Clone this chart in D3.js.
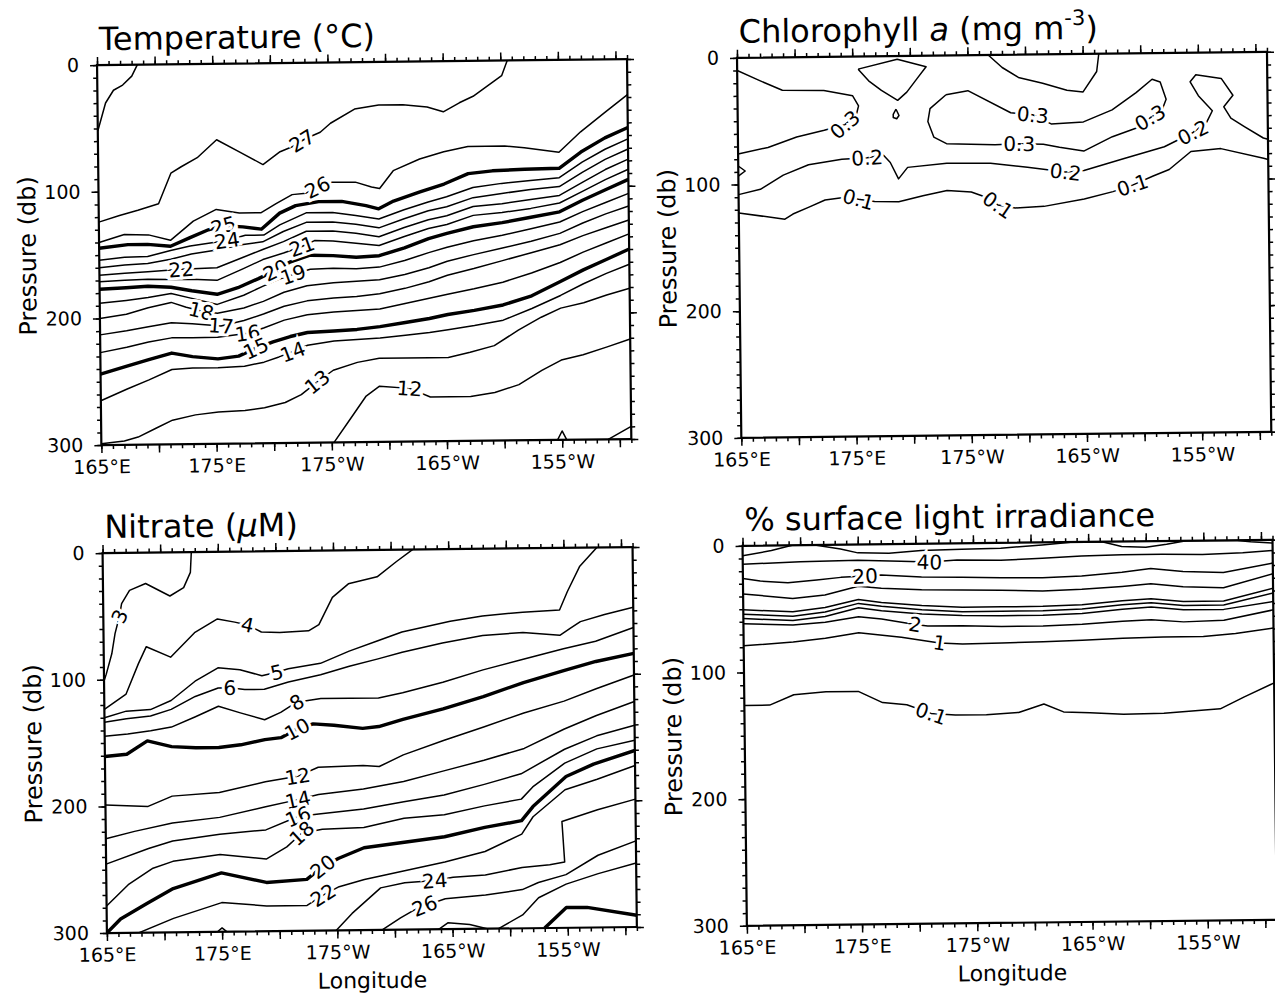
<!DOCTYPE html>
<html lang="en">
<head>
<meta charset="UTF-8">
<title>Sections</title>
<script src="https://cdn.jsdelivr.net/npm/d3@7"></script>
<style>
  body { margin: 0; background: #fff; }
  text { font-family: "DejaVu Sans", sans-serif; fill: #000; }
</style>
</head>
<body>
<script>
// axis values
var lonTicks = [165, 175, 185, 195, 205];
var lonTickLabels = ["165°E", "175°E", "175°W", "165°W", "155°W"];
var pressureTicks = [0, 100, 200, 300];

// temperature contours: [longitude (°E, 0-360), pressure (db)]
var tempContours = [
  { level: 28, pts: [[165,52],[165.7,30],[166.4,20],[167.2,16],[168,9],[168.5,0]] },
  { level: 27, pts: [[165,124],[166.8,119],[168.4,115],[170.2,110],[171.3,86],[172.2,81],[173.6,74],[175.3,60],[177.3,70],[179.3,80],[180.8,70],[181.9,66],[183,60],[184.3,55],[185.2,48],[187.3,37],[189.4,34],[191.5,34],[193.6,36],[195,40],[196.4,33],[197.6,28],[200.1,12],[200.6,0]] },
  { level: 26, pts: [[165,140],[167.2,134],[169.3,134.5],[171.2,139],[173.2,124],[175.2,115],[177.2,118],[179.1,118],[180.4,111],[181.8,104],[183,103],[184,98.5],[185.3,94.5],[187.3,94.7],[188.7,98.7],[189.4,100],[190.6,86],[192.9,77],[195,71.5],[197.1,67.5],[200.3,67.5],[202,69],[205,73],[206.9,57],[209,42],[211,28]] },
  { level: 25, pts: [[165,144.6],[167.5,142],[169.2,142],[171.2,143.7],[172.9,137],[174.5,131],[175.8,128],[177.5,129],[179.1,131],[180.7,118.5],[182.1,112.7],[184.1,109.8],[186.1,109.8],[188.2,113.3],[189.3,116],[190.6,110],[192.9,103],[195,97],[197.1,89],[199.2,87],[202,86],[205,85.6],[206.9,73],[209,62],[211,54]] },
  { level: 24, pts: [[165,154],[167.2,152],[169.2,151.6],[171.2,147],[172.9,143.7],[176.1,139.7],[177.7,135.7],[179.3,135.7],[180.7,127.8],[183,118.5],[185.3,118.5],[187.3,121],[189.3,124],[191.5,117],[193.6,111],[195.2,107],[197.5,100],[200,97],[202.5,95],[205,93],[207,81],[209,71],[211,63]] },
  { level: 23, pts: [[165,160],[167.2,158],[169.2,157],[171.2,154],[173,150],[175.2,147],[177.5,143],[179.2,141],[181,133],[183,126],[185.3,126],[187.3,128],[189.3,131],[191.5,124],[193.6,118],[195.2,115],[197.5,108],[200,105],[202.5,102],[205,100],[207,89],[209,79],[211,71]] },
  { level: 22, pts: [[165,166],[167.2,164.5],[169.2,163.5],[172.1,162],[175.2,161],[177.5,153],[179.2,147],[181,141],[183,133],[185.3,133],[187.3,135],[189.3,138],[191.5,131],[193.6,125],[195.2,122],[197.5,115],[200,113],[202.5,110],[205,107],[207,97],[209,87],[211,79]] },
  { level: 21, pts: [[165,171],[167.2,170],[169.2,169.5],[171.2,170],[173,170],[175.2,171],[177.5,162],[179.2,155],[181,150],[182.6,145],[183.7,140.5],[185.3,141],[187.3,143],[189.3,145],[191.5,138],[193.6,132],[195.2,129],[197.5,122],[200,120],[202.5,117],[205,113],[207,104],[209,95],[211,87]] },
  { level: 20, pts: [[165,177],[167.3,176],[169.2,175],[171.2,176],[173,179],[175.2,182],[177,177],[178.8,170],[180.3,163.5],[181.6,157],[183.3,152],[185.3,152.5],[187.3,154],[189.3,153],[191.5,147],[193.6,140],[195.2,136],[197.5,131],[200,128],[202.5,124],[205,120],[207,111],[209,103],[211,95]] },
  { level: 19, pts: [[165,188],[167.3,186],[169.2,184],[171.2,181],[173,185],[175.2,190],[177.5,183],[179.2,176],[180.5,171],[181.8,167],[183.3,163],[185.3,162.5],[187.3,163],[189.3,162],[191.5,157],[193.6,151],[195.2,147],[197.5,142],[200,138],[202.5,133],[205,128],[207,120],[209,113],[211,106]] },
  { level: 18, pts: [[165,200],[167.3,197],[169.2,192],[171.2,188],[172.5,192],[173.8,195],[175.2,197],[177.5,193],[179.2,188],[181,181],[183,176],[185.3,174],[187.3,173],[189.3,172],[191.5,168],[193.6,163],[195.2,158],[197.5,153],[200,148],[202.5,143],[205,137],[207,129],[209,122],[211,116]] },
  { level: 17, pts: [[165,213],[167.3,210],[169.2,207],[171.2,204],[173,205],[175.5,207],[177.5,203],[179.2,198],[181,192],[183,188],[185.3,186],[187.3,185],[189.3,183],[191.5,179],[193.6,174],[195.2,169],[197.5,164],[200,158],[202.5,152],[205,146],[207,139],[209,133],[211,127]] },
  { level: 16, pts: [[165,227],[167.3,223],[169.2,219],[171.2,216],[173,216],[175.2,216],[177.8,213],[179.2,209],[181,203],[183,199],[185.3,197],[187.3,196],[189.3,195],[191.5,191],[193.6,187],[195.2,184],[197.5,180],[200,175],[202.5,168],[205,160],[207,152],[209,145],[211,138]] },
  { level: 15, pts: [[165,244],[167.3,238],[169.2,233],[171.2,228],[173,231],[175.2,233],[177,231],[178.5,225],[180,220],[181.5,216],[183,213],[185.3,212],[187.3,211],[189.3,209],[191.5,206],[193.6,203],[195.2,200],[197.5,197],[200,193],[202.5,186],[205,175],[207,166],[209,158],[211,150]] },
  { level: 14, pts: [[165,265],[167.3,256],[169.2,249],[171.2,241],[173,240],[175.2,240],[177.5,239],[179.2,236],[180.5,232],[181.7,228],[183,223],[185.3,220],[187.3,219],[189.3,218],[191.5,216],[193.6,214],[195.2,212],[197.5,209],[200,205],[202.5,196],[205,186],[207,177],[209,169],[211,162]] },
  { level: 13, pts: [[165,299],[167,297],[168.2,294],[169.8,287],[171.2,281],[173.2,277],[175.2,275],[177.5,274],[179.2,272],[181,268],[182.4,262],[183.8,252],[185.2,243],[187.3,237],[189.2,234],[191.5,234],[193.6,234],[195.2,234],[197.1,230],[199.2,225],[201.3,213],[203.3,203],[205,196],[207,192],[209,186],[211,181]] },
  { level: 12, pts: [[185.2,300],[186.6,282],[188,264],[189.2,256],[191.8,258],[193.6,265],[197.1,265],[199.2,262],[201.3,256],[203.3,245],[205,237],[206.9,233],[209,227],[211,221]] },
  { level: 12, pts: [[204.6,300],[205,293],[205.4,300]] },
  { level: 11, pts: [[209,300],[210,295],[211,290]] }
];
var tempLabels = [
  { text: "27", lon: 182.7, p: 61.6 }, { text: "26", lon: 184, p: 98.5 },
  { text: "25", lon: 175.8, p: 128 }, { text: "24", lon: 176.1, p: 139.7 },
  { text: "22", lon: 172.1, p: 162 }, { text: "21", lon: 182.6, p: 145 },
  { text: "20", lon: 180.3, p: 163.5 }, { text: "19", lon: 181.8, p: 167 },
  { text: "18", lon: 173.8, p: 195 }, { text: "17", lon: 175.5, p: 207 },
  { text: "16", lon: 177.8, p: 213 }, { text: "15", lon: 178.5, p: 225 },
  { text: "14", lon: 181.7, p: 228 }, { text: "13", lon: 183.8, p: 252 },
  { text: "12", lon: 191.8, p: 258 }
];

// chlorophyll contours
var chlContours = [
  { level: 0.3, pts: [[183.1,31],[185,28],[188.7,45.8],[190.6,47.6],[192.2,55],[195,53.7],[197.5,44.4],[199.6,31],[201,20.6],[201.7,22.8],[202.2,36.5],[201.8,45.8],[200.8,51],[199.6,59],[197.5,65.6],[195,76.7],[192.9,73.5],[191.5,70.9],[189.4,70.4],[187.3,70.9],[183.1,69.6],[182,64.3],[181.5,52],[181.7,41.8],[183.1,31]] },
  { level: 0.3, pts: [[165,10],[166.9,18],[168.9,26],[172.5,26.5],[175,31],[175.5,39],[175.3,46],[174.3,53.7],[172.5,58],[170.1,63],[167.6,71],[165,76]] },
  { level: 0.4, pts: [[175.5,10],[178.9,2.6],[181.4,8.7],[180.6,18],[179.7,28.6],[178.9,35],[177.5,27],[176.4,19.3],[175.5,10]] },
  { level: 0.4, pts: [[178.75,42],[179,47],[178.8,49.5],[178.5,48.5],[178.5,46],[178.75,42]] },
  { level: 0.4, pts: [[186.8,0],[188,10],[189.4,18],[191.5,22.8],[193.6,28.6],[195,30],[196.2,14],[196.4,0]] },
  { level: 0.2, pts: [[165,108],[166.9,104],[168.9,93],[171.1,85],[174,81],[176.2,80],[177.6,78],[178.2,84],[178.9,97],[179.7,88],[183.1,85],[186.9,85.4],[190.1,89],[193.4,93],[195,92],[198.5,83],[202,74],[204.5,63],[205.7,55],[206.2,46],[205,34],[204.3,23],[204.8,17.5],[207,20.6],[208,34],[207.2,43],[207.8,52],[209,59],[210.6,68],[211,69]] },
  { level: 0.2, pts: [[165,85.4],[165.6,89.4],[165,93.4]] },
  { level: 0.1, pts: [[165,122.5],[169,127.8],[169.7,123.8],[171.1,118.5],[172.5,113],[174.6,110.6],[175.4,112.7],[176.8,114.6],[178.9,115],[181,110.6],[183.1,106.6],[185.2,108],[186.6,112.7],[187.5,118.5],[189,121],[191.5,120],[195,114.6],[197.5,109],[199.2,104],[201,97],[202.4,92],[204.3,78],[206.9,76],[210.6,84],[211,85]] }
];
var chlLabels = [
  { text: "0.3", lon: 174.3, p: 53.7 }, { text: "0.3", lon: 190.6, p: 47.6 },
  { text: "0.3", lon: 200.8, p: 51 }, { text: "0.3", lon: 189.4, p: 70.4 },
  { text: "0.2", lon: 176.2, p: 80 }, { text: "0.2", lon: 193.4, p: 93 },
  { text: "0.2", lon: 204.5, p: 63 }, { text: "0.1", lon: 175.4, p: 112.7 },
  { text: "0.1", lon: 187.5, p: 118.5 }, { text: "0.1", lon: 199.2, p: 104 }
];

// nitrate contours
var no3Contours = [
  { level: 3, pts: [[172.7,0],[172.6,16],[172,28],[170.8,34.5],[168.7,24.4],[167.3,29.7],[166.6,40],[166.4,50],[166,63.7],[165.7,79.6],[165.2,95.6],[165,101]] },
  { level: 4, pts: [[165,123.4],[166.9,111.5],[168,87.6],[168.7,74.3],[170.8,82.8],[172.9,63.7],[174.9,53],[176.4,55.7],[177.5,58],[178.7,63.7],[180.3,64.2],[182.8,63.2],[183.7,58.4],[184.9,37],[186.3,26.5],[188.8,21.2],[190.5,9.3],[191.9,0]] },
  { level: 5, pts: [[165,130],[166.9,125],[169,124],[170.8,117],[172.9,102],[174.9,91.6],[176.8,93.4],[178.7,98.2],[180,95.6],[181,93],[183.8,89],[186.3,79.6],[188.8,71.7],[190.9,65],[195.1,57],[197.9,53],[201.4,50.4],[204.6,49],[205.3,34.5],[206.4,14.6],[207.9,0]] },
  { level: 6, pts: [[165,133.5],[166.9,131],[169,129],[170.8,124],[172.9,114],[174.9,107.5],[175.9,107.5],[177.2,109],[178.9,109],[181,103.5],[183.8,98],[186.3,91.6],[188.8,86],[190.9,81],[194.4,74],[197.9,68.5],[201.4,66.4],[204.6,69],[205.5,63.7],[206.4,58.4],[208.5,53],[211,47.5]] },
  { level: 8, pts: [[165,144.7],[167,143],[169,140.7],[170.8,138],[172.9,130],[174.9,122],[176.8,127.4],[178.9,133],[180.3,127.4],[181.7,119.5],[183.8,116.8],[186.3,116.8],[188.8,116.8],[190.9,113],[194.4,105],[197.9,95.6],[201.4,87.6],[204.9,79.6],[207.7,74],[211,63.5]] },
  { level: 10, pts: [[165,160.6],[166.9,159],[168.7,148.7],[170.8,153.4],[172.9,154.5],[174.9,154.5],[176.8,152.6],[178.9,148.7],[180.3,147.3],[181.7,140.7],[183.1,136.7],[184.9,138],[187.4,140.7],[188.8,139.4],[190.9,134],[194.4,126],[197.9,116.8],[201.4,106],[204.9,97],[207.7,90],[211,84]] },
  { level: 12, pts: [[165,199],[168.7,200.4],[170.8,192.5],[174.9,190],[178.9,182],[181.7,178],[183.5,171],[187.4,170],[188.8,171],[190.9,162],[194.4,151],[197.9,140.7],[201.4,130],[204.9,121],[207.7,111.5],[211,101]] },
  { level: 14, pts: [[165,225.6],[167.5,220],[170.8,213.7],[174.9,209.7],[178.9,201.8],[181.7,196.4],[183.5,192.5],[187.4,188.5],[190.9,183],[194.4,175],[197.9,167],[201.4,158],[204.9,143],[207.7,132.7],[211,122]] },
  { level: 16, pts: [[165,245.6],[168.7,233.6],[170.8,228],[174.9,223],[178.9,220],[181.7,209.7],[183.5,208],[187.4,204.4],[190.9,199],[194.4,194],[197.9,186],[201.1,178],[204.9,159],[207.7,148.7],[211,140.7]] },
  { level: 18, pts: [[165,278.7],[166.9,262],[169,249.5],[170.8,244],[174.9,239],[178.9,243],[180.7,233.6],[182,223],[183.8,220],[187.4,219],[190.9,212],[194.4,209.7],[197.9,203],[201.1,198],[202.1,188.5],[204.9,170],[207.7,159],[211,152.6]] },
  { level: 20, pts: [[165,300],[166.2,289],[168.5,277],[170.8,265.5],[175,253.5],[178.9,261.5],[182.4,259.4],[183.8,249.5],[185.2,243],[187.4,235],[190.9,231],[194.4,227],[197.9,220],[201.1,215],[202.1,204],[205,180.5],[207.4,171],[211,160.6]] },
  { level: 22, pts: [[167.8,300],[170.8,289],[175,277],[178.9,280],[182.4,280],[183.8,272],[185.2,265.5],[187.4,260],[190.9,253.5],[194.4,247],[197.9,239],[201.1,225.6],[202.1,212],[204.9,191],[207.7,183],[211,172.5]] },
  { level: 24, pts: [[184.9,300],[186.3,286.7],[188.8,266.8],[190.9,263],[193.5,261.5],[195.1,259],[197.9,257.5],[201.1,252],[203.5,250],[204.8,248],[204.6,216],[207.7,207],[211,199]] },
  { level: 24, pts: [[174.6,300],[175,297],[175.4,300]] },
  { level: 26, pts: [[188.9,300],[190.5,290.7],[191.6,285],[192.6,281.4],[194.4,276],[197.9,273.4],[201.1,269.4],[202.5,264],[204.9,258],[207.7,243],[211,232]] },
  { level: 28, pts: [[199,300],[201.1,289.4],[202.5,276],[204.9,265.5],[207.7,257.5],[211,249.5]] },
  { level: 28, pts: [[193.8,300],[194.6,295],[196.5,296.5],[198,300]] },
  { level: 30, pts: [[203,300],[204.9,284],[206.7,284],[211,290.7]] }
];
var no3Labels = [
  { text: "3", lon: 166.4, p: 50 }, { text: "4", lon: 177.5, p: 58 },
  { text: "5", lon: 180, p: 95.6 }, { text: "6", lon: 175.9, p: 107.5 },
  { text: "8", lon: 181.7, p: 119.5 }, { text: "10", lon: 181.7, p: 140.7 },
  { text: "12", lon: 181.7, p: 178 }, { text: "14", lon: 181.7, p: 196.4 },
  { text: "16", lon: 181.7, p: 209.7 }, { text: "18", lon: 182, p: 223 },
  { text: "20", lon: 183.8, p: 249.5 }, { text: "22", lon: 183.8, p: 272 },
  { text: "24", lon: 193.5, p: 261.5 }, { text: "26", lon: 192.6, p: 281.4 }
];

// % surface light contours
var lightContours = [
  { level: 60, pts: [[165,7.9],[167.5,4],[169.3,0],[171.4,0.3],[173.5,3.4],[175,6.6],[177.7,7.1],[180.5,5.3],[184,4.7],[187.4,4.2],[191,2],[193.7,0],[196.2,0],[197.9,4],[200,4.7],[201.8,2.6],[203.5,0],[207.7,0],[209.1,1.3],[211,2.6]] },
  { level: 40, pts: [[165,14.5],[170,13.2],[175,12.4],[178.7,13.7],[181.2,14.5],[183.6,13.2],[187.4,13.7],[191,12.6],[194.4,11],[197.9,10.5],[201.4,10.5],[204.9,11],[208.4,10],[211,8.4]] },
  { level: 20, pts: [[165,25.8],[166.5,28],[168.9,29.5],[171.4,27.6],[173.5,25.8],[175.6,25],[177,24.2],[180.5,26.3],[184,26.8],[187.4,27.6],[191,27.9],[194.4,26.8],[197.9,24.2],[200.4,21.6],[203.2,24.2],[206.7,25.3],[211,18.4]] },
  { level: 10, pts: [[165,38],[169.3,42],[172.1,39.5],[175,33],[177,34.7],[180.5,36.3],[184,36.8],[187.4,37.4],[191,38.4],[194.4,37.4],[197.9,35.5],[200.4,33.7],[203.2,36.3],[206.7,37.4],[211,26.8]] },
  { level: 5, pts: [[165,50.5],[169.3,52.6],[172.1,49.5],[175,43.4],[177,46],[180.5,48.7],[184,50.5],[187.4,50.5],[191,50.5],[194.4,49.5],[197.9,46.8],[200.4,45.5],[203.2,47.9],[206.7,47.9],[211,38.2]] },
  { level: 4, pts: [[165,54],[169.3,56],[172.1,53],[175,46.5],[177,49],[180.5,52],[184,54],[187.4,54],[191,54],[194.4,53],[197.9,50],[200.4,48.7],[203.2,51],[206.7,51],[211,42]] },
  { level: 3, pts: [[165,57.4],[169.3,59.5],[172.1,56.5],[175,50],[177,52.5],[180.5,55.5],[184,57],[187.4,57.5],[191,57.5],[194.4,56.5],[197.9,53.5],[200.4,52],[203.2,54.5],[206.7,54.5],[211,48.7]] },
  { level: 2, pts: [[165,61.5],[169.3,63],[172.1,61],[175,57],[177,59],[179.9,63.7],[181,65],[184,65],[187.4,66],[191,66],[194.4,65],[197.9,63],[200.4,62],[203.2,64],[206.7,63],[211,55.3]] },
  { level: 1, pts: [[165,79],[169.3,76.3],[172.1,73.7],[175,69.7],[178.7,73.7],[182,78.4],[184,79.5],[187.4,79],[191,78.5],[194.4,77.6],[197.9,76.3],[201.4,75.8],[204.9,75.8],[207.7,73.7],[211,69.7]] },
  { level: 0.1, pts: [[165,126],[167.2,126],[169.3,118],[172.1,116],[174.9,116],[177,125],[179.1,127],[181.2,134],[183.3,135.5],[186,135.5],[188.8,134],[191,127.6],[192.7,134],[195,135],[197.9,136.3],[201.4,136],[206.3,133],[208.4,123.7],[211,113]] }
];
var lightLabels = [
  { text: "40", lon: 181.2, p: 14.5 }, { text: "20", lon: 175.6, p: 25 },
  { text: "2", lon: 179.9, p: 63.7 }, { text: "1", lon: 182, p: 78.4 },
  { text: "0.1", lon: 181.2, p: 134 }
];

var width = 1275, height = 997;
var panelW = 530, panelH = 380;

var svg = d3.select("body").append("svg").attr("width", width).attr("height", height);
svg.append("rect").attr("width", width).attr("height", height).attr("fill", "#fff");
// the scanned page is slightly tilted
var page = svg.append("g").attr("transform", "rotate(-0.65,637,498)");

var x = d3.scaleLinear().domain([165, 211]).range([0, panelW]);
var y = d3.scaleLinear().domain([0, 300]).range([0, panelH]);
var line = d3.line().x(function (d) { return x(d[0]); }).y(function (d) { return y(d[1]); });

function labelAngle(contours, lab) {
  var lev = +lab.text, px = x(lab.lon), py = y(lab.p), best = 1e9, ang = 0;
  contours.forEach(function (c) {
    if (Math.abs(c.level - lev) > 1e-6) return;
    for (var i = 0; i < c.pts.length - 1; i++) {
      var ax = x(c.pts[i][0]), ay = y(c.pts[i][1]), bx = x(c.pts[i + 1][0]), by = y(c.pts[i + 1][1]);
      var dx = bx - ax, dy = by - ay, L = dx * dx + dy * dy || 1;
      var t = Math.max(0, Math.min(1, ((px - ax) * dx + (py - ay) * dy) / L));
      var qx = ax + t * dx - px, qy = ay + t * dy - py, dd = qx * qx + qy * qy;
      if (dd < best) { best = dd; ang = Math.atan2(dy, dx) * 180 / Math.PI; }
    }
  });
  if (ang > 90) ang -= 180;
  if (ang < -90) ang += 180;
  return Math.max(-65, Math.min(65, ang));
}

function drawPanel(opt) {
  var g = page.append("g").attr("transform", "translate(" + opt.x0 + "," + opt.y0 + ")");
  var clipId = "clip" + opt.id;
  g.append("clipPath").attr("id", clipId).append("rect").attr("width", panelW).attr("height", panelH);

  var plot = g.append("g").attr("clip-path", "url(#" + clipId + ")");
  plot.selectAll("path.c").data(opt.contours).enter().append("path")
    .attr("class", "c")
    .attr("d", function (d) { return line(d.pts); })
    .attr("fill", "none").attr("stroke", "#000")
    .attr("stroke-linejoin", "round")
    .attr("stroke-width", function (d) { return opt.thick(d.level) ? 3.4 : 1.5; });

  plot.selectAll("text.lab").data(opt.labels).enter().append("text")
    .attr("class", "lab")
    .attr("transform", function (d) {
      return "translate(" + x(d.lon) + "," + y(d.p) + ") rotate(" + labelAngle(opt.contours, d) + ")";
    })
    .attr("text-anchor", "middle").attr("dy", "0.36em")
    .attr("font-size", 20)
    .attr("stroke", "#fff").attr("stroke-width", 6).attr("paint-order", "stroke")
    .text(function (d) { return d.text; });

  // ticks
  function ticks(axis, vals, size) {
    return axis.tickValues(vals).tickSize(size).tickFormat("");
  }
  var lonMinor = d3.range(165, 212, 1), lonMajor = d3.range(165, 212, 5);
  var pMinor = d3.range(0, 301, 10), pMajor = d3.range(0, 301, 100);
  [[d3.axisBottom, panelH], [d3.axisTop, 0]].forEach(function (a) {
    g.append("g").attr("transform", "translate(0," + a[1] + ")").call(ticks(a[0](x), lonMinor, 4));
    g.append("g").attr("transform", "translate(0," + a[1] + ")").call(ticks(a[0](x), lonMajor, 8));
  });
  [[d3.axisLeft, 0], [d3.axisRight, panelW]].forEach(function (a) {
    g.append("g").attr("transform", "translate(" + a[1] + ",0)").call(ticks(a[0](y), pMinor, 4));
    g.append("g").attr("transform", "translate(" + a[1] + ",0)").call(ticks(a[0](y), pMajor, 7));
  });
  g.selectAll(".domain").remove();
  g.selectAll(".tick line").attr("stroke", "#000").attr("stroke-width", 1.5);

  // tick labels
  var xl = g.append("g").attr("transform", "translate(0," + panelH + ")")
    .call(d3.axisBottom(x).tickValues(lonTicks).tickSize(0).tickPadding(15)
      .tickFormat(function (d, i) { return lonTickLabels[i]; }));
  var yl = g.append("g")
    .call(d3.axisLeft(y).tickValues(pressureTicks).tickSize(0).tickPadding(18));
  [xl, yl].forEach(function (a) {
    a.select(".domain").remove();
    a.attr("font-family", null).attr("font-size", null);
    a.selectAll("text").attr("font-size", 19).attr("fill", "#000");
  });

  // frame
  g.append("rect").attr("width", panelW).attr("height", panelH)
    .attr("fill", "none").attr("stroke", "#000").attr("stroke-width", 2.2);

  // titles
  var t = g.append("text").attr("x", 2).attr("y", -15).attr("font-size", 32);
  opt.title(t);
  g.append("text").attr("transform", "translate(-72," + panelH / 2 + ") rotate(-90)")
    .attr("text-anchor", "middle").attr("dy", "0.36em").attr("font-size", 24)
    .text("Pressure (db)");
  if (opt.bottom) {
    g.append("text").attr("x", panelW / 2).attr("y", panelH + 58)
      .attr("text-anchor", "middle").attr("font-size", 22).text("Longitude");
  }
}

drawPanel({
  id: 1, x0: 102, y0: 59, contours: tempContours, labels: tempLabels,
  thick: function (l) { return l % 5 === 0; },
  title: function (t) { t.text("Temperature (°C)"); }
});
drawPanel({
  id: 2, x0: 742, y0: 59, contours: chlContours, labels: chlLabels,
  thick: function () { return false; },
  title: function (t) {
    t.append("tspan").text("Chlorophyll ");
    t.append("tspan").attr("font-style", "italic").text("a");
    t.append("tspan").text(" (mg m");
    t.append("tspan").attr("font-size", 21).attr("dy", -14).text("-3");
    t.append("tspan").attr("dy", 14).text(")");
  }
});
drawPanel({
  id: 3, x0: 102, y0: 547, contours: no3Contours, labels: no3Labels, bottom: true,
  thick: function (l) { return l % 10 === 0; },
  title: function (t) {
    t.append("tspan").text("Nitrate (");
    t.append("tspan").attr("font-style", "italic").text("μ");
    t.append("tspan").text("M)");
  }
});
drawPanel({
  id: 4, x0: 742, y0: 547, contours: lightContours, labels: lightLabels, bottom: true,
  thick: function () { return false; },
  title: function (t) { t.text("% surface light irradiance"); }
});
</script>
</body>
</html>
